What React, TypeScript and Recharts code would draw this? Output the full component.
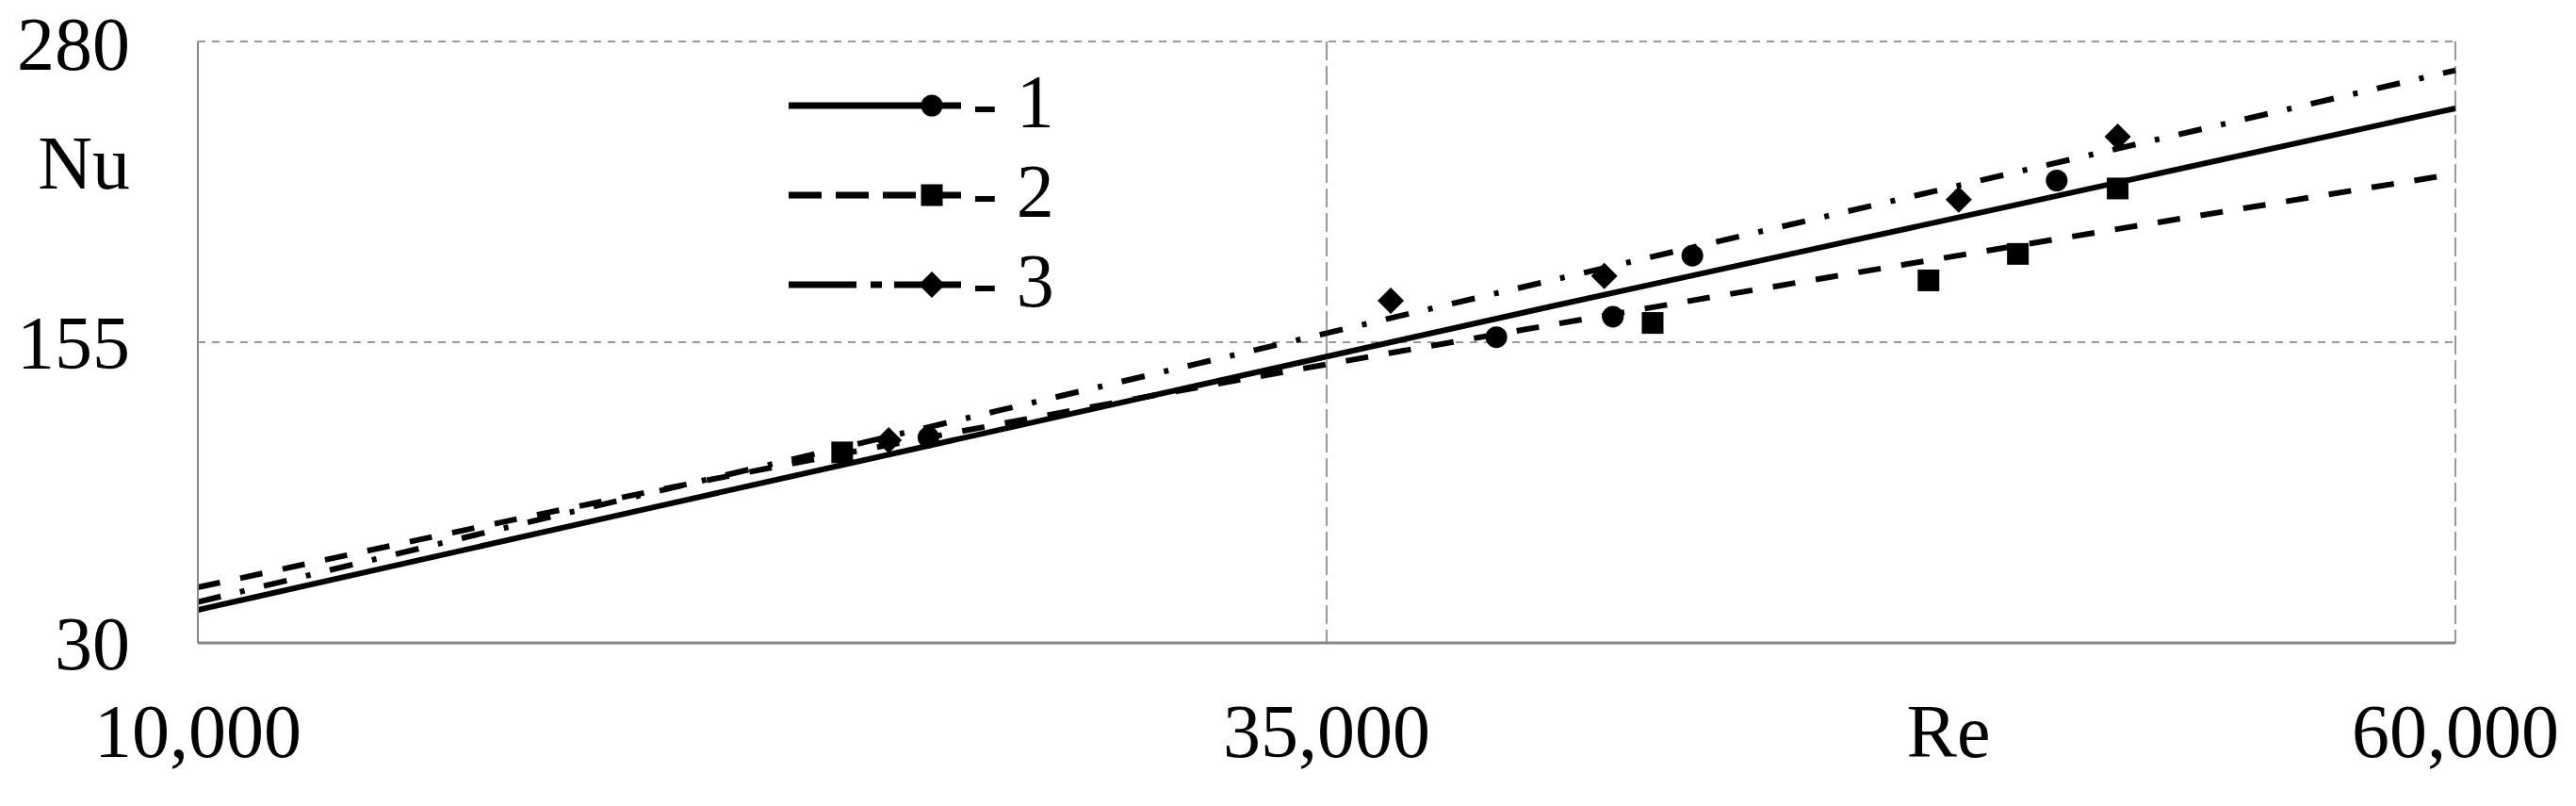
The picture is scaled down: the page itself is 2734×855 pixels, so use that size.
import React from "react"
import {
	ComposedChart,
	Line,
	Scatter,
	XAxis,
	YAxis,
	CartesianGrid,
} from "recharts"

// axis ticks
const reTicks = [10000, 35000, 60000]
const nuTicks = [30, 155, 280]

const re1 = [26180, 38760, 41340, 43100, 51170]
const nu1 = [115.4, 157.1, 165.6, 191.0, 222.2]
const re2 = [24270, 42220, 48330, 50310, 52520]
const nu2 = [109.2, 163.0, 180.7, 191.7, 218.9]
const re3 = [25300, 36420, 41150, 49000, 52520]
const nu3 = [114.2, 172.2, 182.5, 214.3, 240.4]

// trend curves, read at regular Re steps
const fitRe = [10000, 20000, 30000, 40000, 50000, 60000]
const fit1Nu = [43.7, 86, 128, 170, 211, 252.2]
const fit2Nu = [53.1, 92.8, 128.8, 162.3, 194.2, 225]
const fit3Nu = [47, 92.2, 136.6, 180.8, 224.5, 268]

const legendNames = ["1", "2", "3"]

const toRows = (xs: number[], ys: number[]) => xs.map((re, i) => ({ re, nu: ys[i] }))

const FONT = "'Liberation Serif', 'Times New Roman', serif"

const Circle = (p: any) => <circle cx={p.cx} cy={p.cy} r={11.5} fill="#000" />
const Square = (p: any) => <rect x={p.cx - 11.5} y={p.cy - 11.5} width={23} height={23} fill="#000" />
const Diamond = (p: any) => (
	<polygon
		points={`${p.cx},${p.cy - 14} ${p.cx + 14},${p.cy} ${p.cx},${p.cy + 14} ${p.cx - 14},${p.cy}`}
		fill="#000"
	/>
)

const series = [
	{ name: legendNames[0], points: toRows(re1, nu1), fit: toRows(fitRe, fit1Nu), dash: undefined, legendDash: undefined, Shape: Circle },
	{ name: legendNames[1], points: toRows(re2, nu2), fit: toRows(fitRe, fit2Nu), dash: "24 22", legendDash: "35 15", Shape: Square },
	{ name: legendNames[2], points: toRows(re3, nu3), fit: toRows(fitRe, fit3Nu), dash: "25 21 5 21", legendDash: "72 15 12 13", Shape: Diamond },
]

// legend drawn as an overlay so it doesn't eat plot space
function LegendBox() {
	return (
		<svg width={320} height={290} style={{ position: "absolute", left: 830, top: 60 }}>
			{series.map((s, i) => {
				const cy = 52 + i * 95
				return (
					<g key={s.name}>
						<line x1={7} y1={cy} x2={190} y2={cy} stroke="#000" strokeWidth={7} strokeDasharray={s.legendDash} />
						<s.Shape cx={159} cy={cy} />
						<text x={202} y={cy + 23} fontSize={80} fontFamily={FONT} fill="#000">
							- {s.name}
						</text>
					</g>
				)
			})}
		</svg>
	)
}

const AxisTitle = ({ tx, ty, anchor, text }: any) => (
	<text x={tx} y={ty} textAnchor={anchor} fontSize={80} fontFamily={FONT} fill="#000">
		{text}
	</text>
)

export default function App() {
	const tick = { fill: "#000", fontSize: 80, fontFamily: FONT }
	return (
		<div style={{ position: "absolute", left: 0, top: 0, width: 2734, height: 855, background: "#fff" }}>
			<ComposedChart width={2734} height={855} margin={{ top: 44, right: 128, bottom: 0, left: 0 }}>
				<CartesianGrid vertical={false} stroke="#999" strokeWidth={2} strokeDasharray="8 7" />
				<CartesianGrid horizontal={false} stroke="#999" strokeWidth={2} strokeDasharray="20 6" />
				<XAxis
					type="number"
					dataKey="re"
					domain={[10000, 60000]}
					ticks={reTicks}
					tickFormatter={(v: number) => v.toLocaleString("en-US")}
					tick={tick}
					tickLine={false}
					tickSize={0}
					tickMargin={64}
					height={173}
					axisLine={{ stroke: "#888", strokeWidth: 3 }}
					label={<AxisTitle tx={2068} ty={803} anchor="middle" text="Re" />}
				/>
				<YAxis
					type="number"
					dataKey="nu"
					domain={[30, 280]}
					ticks={nuTicks}
					tick={tick}
					tickLine={false}
					tickSize={0}
					tickMargin={72}
					width={210}
					axisLine={{ stroke: "#888", strokeWidth: 2 }}
					label={<AxisTitle tx={138} ty={200} anchor="end" text="Nu" />}
				/>
				{series.map((s) => (
					<Line
						key={`fit-${s.name}`}
						data={s.fit}
						dataKey="nu"
						type="monotone"
						stroke="#000"
						strokeWidth={6}
						strokeDasharray={s.dash}
						dot={false}
						activeDot={false}
						isAnimationActive={false}
						legendType="none"
					/>
				))}
				{series.map((s) => (
					<Scatter
						key={`pts-${s.name}`}
						data={s.points}
						dataKey="nu"
						shape={(p: any) => <s.Shape cx={p.cx} cy={p.cy} />}
						isAnimationActive={false}
						legendType="none"
					/>
				))}
			</ComposedChart>
			<LegendBox />
		</div>
	)
}
